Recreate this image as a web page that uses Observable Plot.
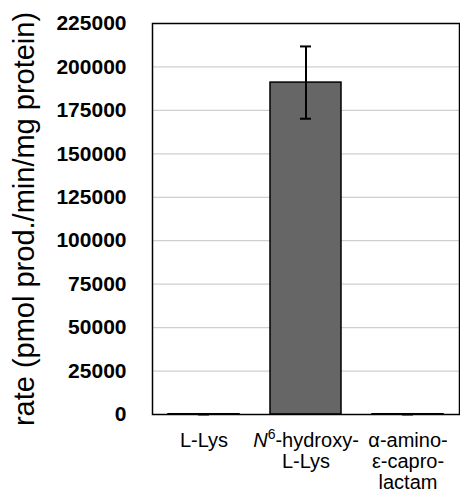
<!DOCTYPE html>
<html><head><meta charset="utf-8">
<script src="https://cdn.jsdelivr.net/npm/d3@7"></script>
<script src="https://cdn.jsdelivr.net/npm/@observablehq/plot@0.6"></script>
<style>body{margin:0;background:#fff}</style>
</head><body><div id="chart"></div>
<script>
const categories = ["L-Lys", "N6-hydroxy-L-Lys", "alpha-amino-epsilon-caprolactam"];
const tickLabels = ["L-Lys", "N6-hydroxy-\nL-Lys", "α-amino-\nε-capro-\nlactam"];
const rates = [150, 191000, 150];
const errors = [150, 20800, 150];
const yTicks = [0, 25000, 50000, 75000, 100000, 125000, 150000, 175000, 200000, 225000];
const yLabel = "rate (pmol prod./min/mg protein)";

const data = categories.map((c, i) => ({cat: c, rate: rates[i], lo: rates[i] - errors[i], hi: rates[i] + errors[i]}));

const chart = Plot.plot({
  width: 460, height: 493,
  marginLeft: 152, marginRight: 1, marginTop: 23, marginBottom: 79,
  style: {fontFamily: '"Liberation Sans", Arial, sans-serif', background: "#fff", color: "#000"},
  x: {type: "band", domain: categories, paddingInner: 0.3, paddingOuter: 0.15},
  y: {domain: [0, 225000]},
  marks: [
    Plot.gridY(yTicks, {stroke: "#cfcfcf", strokeOpacity: 1, strokeWidth: 1.2}),
    Plot.barY(data, {x: "cat", y: "rate", fill: "#666666", stroke: "#000", strokeWidth: 1.5}),
    Plot.ruleX(data, {x: "cat", y1: "lo", y2: "hi", stroke: "#000", strokeWidth: 2}),
    Plot.tickY(data, {x: "cat", y: "hi", inset: 30, stroke: "#000", strokeWidth: 2}),
    Plot.tickY(data, {x: "cat", y: "lo", inset: 30, stroke: "#000", strokeWidth: 2}),
    Plot.frame({stroke: "#000", strokeWidth: 1.5}),
    Plot.axisY({ticks: yTicks, tickSize: 0, tickPadding: 26, fontSize: 21, fontWeight: "bold", tickFormat: d => String(d), label: null}),
    Plot.axisY({ticks: [], label: yLabel, labelAnchor: "center", labelArrow: "none", labelOffset: 139, fontSize: 29}),
    Plot.axisX({tickSize: 0, tickPadding: 17, fontSize: 20, lineHeight: 1.06, tickFormat: d => tickLabels[categories.indexOf(d)], label: null})
  ]
});
document.getElementById("chart").appendChild(chart);

// italic N with superscript 6
const NS = "http://www.w3.org/2000/svg";
chart.querySelectorAll("text tspan, text").forEach(el => {
  if (el.childNodes.length === 1 && el.childNodes[0].nodeType === 3 && el.textContent === "N6-hydroxy-") {
    el.textContent = "";
    const n = document.createElementNS(NS, "tspan");
    n.setAttribute("font-style", "italic"); n.textContent = "N";
    const s = document.createElementNS(NS, "tspan");
    s.setAttribute("baseline-shift", "super"); s.setAttribute("font-size", "0.7em"); s.textContent = "6";
    const r = document.createElementNS(NS, "tspan");
    r.textContent = "-hydroxy-";
    el.append(n, s, r);
  }
});
</script></body></html>
